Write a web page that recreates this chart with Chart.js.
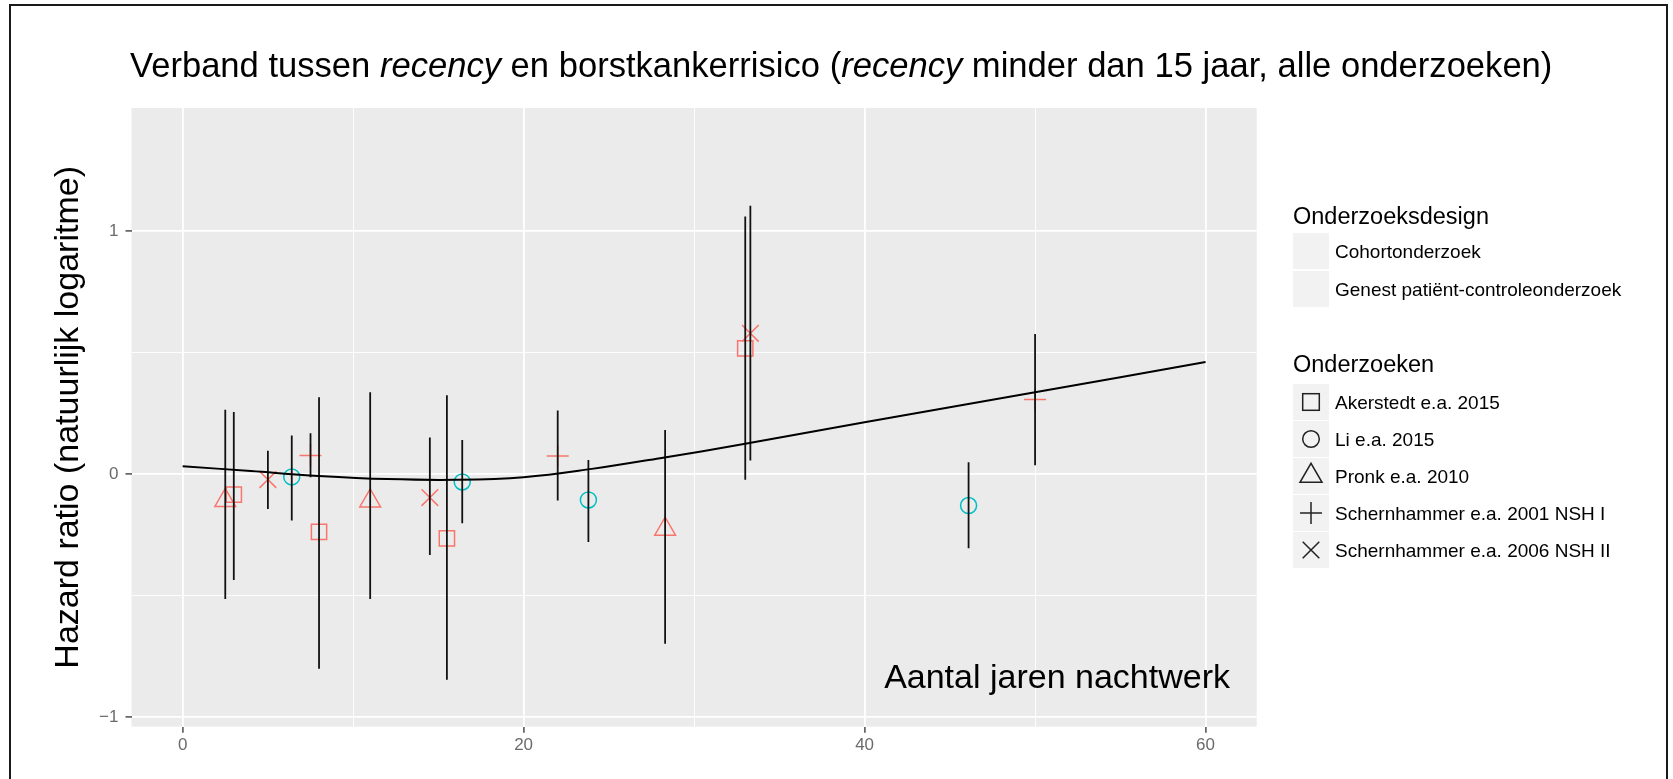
<!DOCTYPE html>
<html>
<head>
<meta charset="utf-8">
<script src="https://cdn.jsdelivr.net/npm/chart.js@4.4.1/dist/chart.umd.min.js"></script>
<style>
  html, body { margin: 0; padding: 0; background: #fff; width: 1673px; height: 779px; overflow: hidden;
    font-family: "Liberation Sans", Arial, Helvetica, sans-serif; color: #000; }
  #c { position: absolute; left: 0; top: 0; display: block; }
  #frame { position: absolute; left: 9px; top: 4px; width: 1655px; height: 800px; border: 2px solid #1a1a1a; border-bottom: none; pointer-events: none; }
  .title { position: absolute; left: 130px; top: 48px; font-size: 34.6px; line-height: 34.6px; white-space: nowrap; }
  .xlabel { position: absolute; right: 443px; top: 659px; font-size: 34px; line-height: 34px; white-space: nowrap; }
  .legend-title { position: absolute; left: 1293px; font-size: 23.5px; line-height: 23.5px; white-space: nowrap; }
  .key-row { position: absolute; left: 1293px; height: 36px; display: flex; align-items: center; }
  .key { width: 36px; height: 36px; background: #F2F2F2; margin-right: 6px; flex: none; }
  .key svg { display: block; }
  .key-label { font-size: 19px; line-height: 19px; white-space: nowrap; }
</style>
</head>
<body>
<canvas id="c" width="1673" height="779"></canvas>
<div class="title">Verband tussen <i>recency</i> en borstkankerrisico (<i>recency</i> minder dan 15 jaar, alle onderzoeken)</div>
<div class="xlabel">Aantal jaren nachtwerk</div>
<div id="legend"></div>
<div id="frame"></div>
<script>
// legenda
const designs = ['Cohortonderzoek', 'Genest patiënt-controleonderzoek'];
const designColors = ['#F8766D', '#00BFC4'];
const studies = ['Akerstedt e.a. 2015', 'Li e.a. 2015', 'Pronk e.a. 2010',
  'Schernhammer e.a. 2001 NSH I', 'Schernhammer e.a. 2006 NSH II'];
const studyDesign = [0, 1, 0, 0, 0];
const studyShapes = ['rect', 'circle', 'triangle', 'cross', 'crossRot'];
const studyRadius = [10.8, 8, 12, 11, 11.8];

// jaren nachtwerk, log hazard ratio, ondergrens, bovengrens
const akerstedtX  = [3.0, 8.0, 15.5, 33.0];
const akerstedtY  = [-0.084, -0.237, -0.264, 0.518];
const akerstedtLo = [-0.435, -0.801, -0.846, -0.023];
const akerstedtHi = [0.256, 0.317, 0.325, 1.06];

const liX  = [6.4, 16.4, 23.8, 46.1];
const liY  = [-0.011, -0.032, -0.106, -0.129];
const liLo = [-0.19, -0.202, -0.279, -0.305];
const liHi = [0.159, 0.141, 0.059, 0.049];

const pronkX  = [2.5, 11.0, 28.3];
const pronkY  = [-0.108, -0.11, -0.226];
const pronkLo = [-0.514, -0.514, -0.698];
const pronkHi = [0.265, 0.337, 0.182];

const nsh1X  = [7.5, 22.0, 50.0];
const nsh1Y  = [0.077, 0.075, 0.307];
const nsh1Lo = [-0.012, -0.108, 0.037];
const nsh1Hi = [0.169, 0.262, 0.577];

const nsh2X  = [5.0, 14.5, 33.3];
const nsh2Y  = [-0.022, -0.096, 0.58];
const nsh2Lo = [-0.143, -0.332, 0.056];
const nsh2Hi = [0.097, 0.151, 1.105];

// fitlijn
const curveX = [0, 4, 8, 12, 16, 20, 24, 28, 33, 40, 50, 60];
const curveY = [0.033, 0.013, -0.007, -0.020, -0.023, -0.012, 0.022, 0.066, 0.125, 0.214, 0.337, 0.462];

// assen
const xMajor = [0, 20, 40, 60];
const xLabels = ['0', '20', '40', '60'];
const xMinor = [10, 30, 50];
const yMajor = [-1, 0, 1];
const yLabels = ['\u22121', '0', '1'];
const yMinor = [-0.5, 0.5];

const studyData = [
  [akerstedtX, akerstedtY, akerstedtLo, akerstedtHi],
  [liX, liY, liLo, liHi],
  [pronkX, pronkY, pronkLo, pronkHi],
  [nsh1X, nsh1Y, nsh1Lo, nsh1Hi],
  [nsh2X, nsh2Y, nsh2Lo, nsh2Hi]
];

const pointSets = studyData.map(([xs, ys], i) => ({
  type: 'scatter',
  label: studies[i],
  data: xs.map((x, j) => ({ x: x, y: ys[j] })),
  pointStyle: studyShapes[i],
  pointRadius: studyRadius[i],
  pointBorderColor: designColors[studyDesign[i]],
  pointBackgroundColor: 'rgba(0,0,0,0)',
  pointBorderWidth: 1.5,
  showLine: false,
  order: 3
}));

const errData = [];
studyData.forEach(([xs, ys, lo, hi]) => {
  xs.forEach((x, j) => {
    errData.push({ x: x, y: lo[j] }, { x: x, y: hi[j] }, { x: x, y: null });
  });
});

const isMajor = (v, majors) => majors.some(m => Math.abs(m - v) < 1e-9);
const labelFor = (v, majors, labels) => {
  const k = majors.findIndex(m => Math.abs(m - v) < 1e-9);
  return k < 0 ? '' : labels[k];
};

const panelBg = {
  id: 'panelBg',
  beforeDraw(chart) {
    const { ctx, chartArea: a } = chart;
    ctx.save();
    ctx.fillStyle = '#EBEBEB';
    ctx.fillRect(a.left, a.top, a.right - a.left, a.bottom - a.top);
    ctx.restore();
  }
};

const tickFont = { family: '"Liberation Sans", Arial, sans-serif', size: 17 };

new Chart(document.getElementById('c'), {
  type: 'scatter',
  data: {
    datasets: [
      {
        type: 'line',
        label: 'fit',
        data: curveX.map((x, i) => ({ x: x, y: curveY[i] })),
        borderColor: '#000',
        borderWidth: 2,
        pointRadius: 0,
        tension: 0.4,
        fill: false,
        order: 1
      },
      {
        type: 'line',
        label: 'ci',
        data: errData,
        borderColor: '#111',
        borderWidth: 1.8,
        pointRadius: 0,
        spanGaps: false,
        fill: false,
        order: 2
      },
      ...pointSets
    ]
  },
  options: {
    responsive: false,
    animation: false,
    devicePixelRatio: 1,
    layout: { padding: { left: 0, top: 108, right: 416.3, bottom: 0 } },
    plugins: { legend: { display: false }, tooltip: { enabled: false } },
    scales: {
      x: {
        type: 'linear',
        min: -3,
        max: 63,
        afterFit: s => { s.height = 52.3; },
        afterBuildTicks: s => {
          s.ticks = xMajor.concat(xMinor).sort((a, b) => a - b).map(v => ({ value: v }));
        },
        ticks: {
          autoSkip: false,
          maxRotation: 0,
          padding: 2,
          color: '#6b6b6b',
          font: tickFont,
          callback: v => labelFor(v, xMajor, xLabels)
        },
        grid: {
          color: '#fff',
          lineWidth: c => isMajor(c.tick.value, xMajor) ? 1.8 : 0.9,
          tickColor: c => isMajor(c.tick.value, xMajor) ? '#4d4d4d' : 'rgba(0,0,0,0)',
          tickLength: 6,
          tickWidth: 1.5
        },
        border: { display: false }
      },
      y: {
        type: 'linear',
        min: -1.039,
        max: 1.507,
        afterFit: s => { s.width = 131.5; },
        afterBuildTicks: s => {
          s.ticks = yMajor.concat(yMinor).sort((a, b) => a - b).map(v => ({ value: v }));
        },
        ticks: {
          autoSkip: false,
          padding: 7,
          color: '#6b6b6b',
          font: tickFont,
          callback: v => labelFor(v, yMajor, yLabels)
        },
        grid: {
          color: '#fff',
          lineWidth: c => isMajor(c.tick.value, yMajor) ? 1.8 : 0.9,
          tickColor: c => isMajor(c.tick.value, yMajor) ? '#4d4d4d' : 'rgba(0,0,0,0)',
          tickLength: 6,
          tickWidth: 1.5
        },
        border: { display: false },
        title: {
          display: true,
          text: 'Hazard ratio (natuurlijk logaritme)',
          color: '#000',
          font: { family: '"Liberation Sans", Arial, sans-serif', size: 34 },
          padding: { top: 48.6, bottom: 0 }
        }
      }
    }
  },
  plugins: [panelBg]
});

// legenda in html
const shapeSvg = {
  rect: '<rect x="9.7" y="9.7" width="16.6" height="16.6"/>',
  circle: '<circle cx="18" cy="18" r="8.3"/>',
  triangle: '<polygon points="7,24.3 29,24.3 18,5.3"/>',
  cross: '<line x1="7" y1="18" x2="29" y2="18"/><line x1="18" y1="7" x2="18" y2="29"/>',
  crossRot: '<line x1="9.7" y1="9.7" x2="26.3" y2="26.3"/><line x1="26.3" y1="9.7" x2="9.7" y2="26.3"/>'
};
const legend = document.getElementById('legend');
let html = '<div class="legend-title" style="top:205px">Onderzoeksdesign</div>';
designs.forEach((d, i) => {
  html += '<div class="key-row" style="top:' + (233.3 + i * 37.7) + 'px"><div class="key"></div>' +
    '<span class="key-label">' + d + '</span></div>';
});
html += '<div class="legend-title" style="top:352.8px">Onderzoeken</div>';
studies.forEach((s, i) => {
  html += '<div class="key-row" style="top:' + (384 + i * 37) + 'px"><div class="key">' +
    '<svg width="36" height="36" fill="none" stroke="#222" stroke-width="1.5">' + shapeSvg[studyShapes[i]] + '</svg></div>' +
    '<span class="key-label">' + s + '</span></div>';
});
legend.innerHTML = html;
</script>
</body>
</html>
